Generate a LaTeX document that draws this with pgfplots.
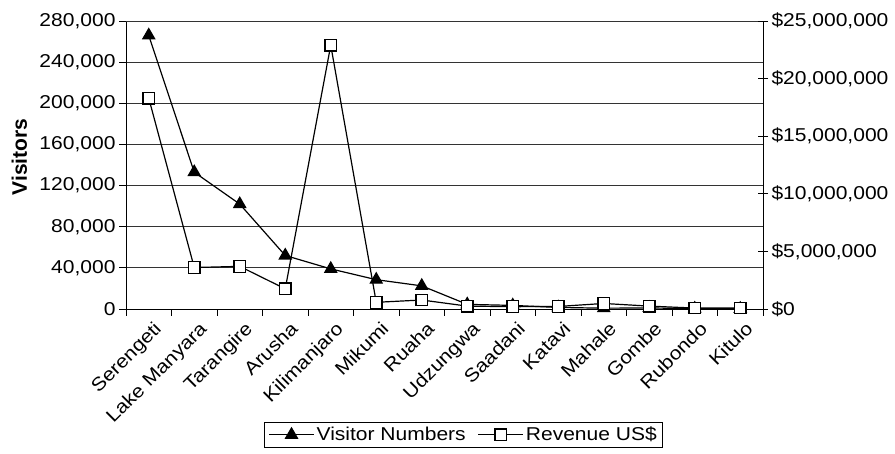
\documentclass[border=0pt]{standalone}
\usepackage{fontspec}
\setmainfont{Liberation Sans}[FakeStretch=1.13]
\newfontfamily\labelfont{Liberation Sans}
\usepackage{pgfplots}
\pgfplotsset{compat=1.18}
\begin{document}
\begin{tikzpicture}
\pgfplotsset{
 base/.style={
  scale only axis, width=637pt, height=288pt,
  at={(126pt,145pt)}, anchor=south west,
  xmin=0.5, xmax=14.5,
  font=\fontsize{18.6}{22}\selectfont,
  /pgf/number format/fixed,
  /pgf/number format/precision=0,
  /pgf/number format/assume math mode=true,
  /pgf/number format/1000 sep={,},
  scaled y ticks=false,
  axis line style={-, black, line width=0.9pt},
 },
 vis/.style={black, line width=1.2pt, mark=triangle*, mark size=6.8pt, mark options={solid, fill=black}},
 rev/.style={black, line width=1.2pt, mark=square*, mark size=5.8pt, mark options={solid, fill=white}},
}
\begin{axis}[base,
  ymin=0, ymax=280000,
  axis x line*=bottom, axis y line*=left,
  ytick={0,40000,80000,120000,160000,200000,240000},
  extra y ticks={280000},
  extra y tick style={grid style={black!20, line width=0.9pt}},
  ymajorgrids, major grid style={black!80, line width=0.9pt},
  xtick align=outside, ytick align=outside,
  xtick pos=bottom, ytick pos=left,
  major tick length=7pt,
  x tick style={black, line width=0.9pt},
  y tick style={black, line width=0.9pt},
  xtick={0.5,1.5,2.5,3.5,4.5,5.5,6.5,7.5,8.5,9.5,10.5,11.5,12.5,13.5,14.5},
  x tick label as interval,
  xticklabels={Serengeti,Lake Manyara,Tarangire,Arusha,Kilimanjaro,Mikumi,Ruaha,Udzungwa,Saadani,Katavi,Mahale,Gombe,Rubondo,Kitulo},
  xticklabel style={xshift=4pt, yshift=-4pt, rotate=45, anchor=north east, inner sep=0pt},
  ylabel={\labelfont\bfseries\fontsize{21}{24}\selectfont Visitors},
  ylabel style={at={(axis description cs:-0.1672,0.5278)}, anchor=center},
]
\addplot[vis] coordinates {
 (1,266000) (2,133000) (3,102000) (4,52000) (5,39000) (6,28500) (7,22500)
 (8,4500) (9,3500) (10,1500) (11,800) (12,1000) (13,400) (14,200)};
\end{axis}
\begin{axis}[base,
  ymin=0, ymax=25000000,
  axis x line=none, axis y line*=right,
  ytick={0,5000000,10000000,15000000,20000000,25000000},
  yticklabel={\$\pgfmathprintnumber{\tick}},
  ytick align=center, major tick length=10pt,
  y tick style={black, line width=0.9pt},
  legend style={at={(axis description cs:0.2166,-0.3913)}, anchor=north west,
    draw=black, line width=0.9pt, font=\fontsize{18.6}{22}\selectfont,
    inner xsep=4pt, inner ysep=3pt,
    /tikz/every even column/.append style={column sep=10pt}},
  legend columns=2,
  legend image code/.code={\draw[mark repeat=2,mark phase=2,#1] plot coordinates {(0pt,0pt) (22.5pt,0pt) (45pt,0pt)};},
]
\addlegendimage{vis}
\addlegendentry{Visitor Numbers}
\addplot[rev] coordinates {
 (1,18300000) (2,3600000) (3,3700000) (4,1750000) (5,22900000) (6,580000) (7,780000)
 (8,250000) (9,200000) (10,220000) (11,480000) (12,250000) (13,80000) (14,80000)};
\addlegendentry{Revenue US\$}
\end{axis}
\pgfresetboundingbox
\useasboundingbox (0,0) rectangle (895pt,454pt);
\end{tikzpicture}
\end{document}
